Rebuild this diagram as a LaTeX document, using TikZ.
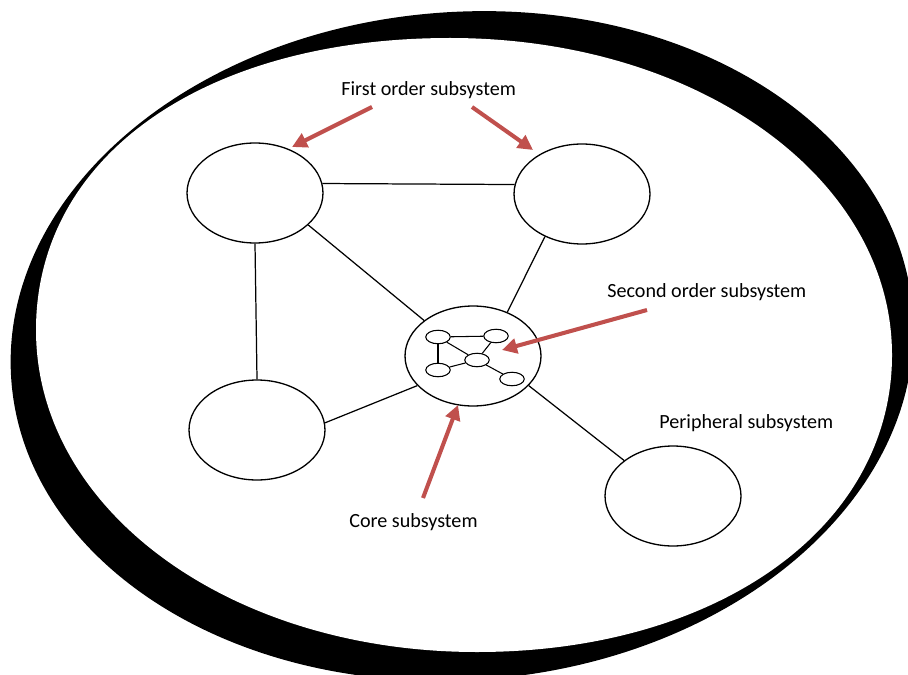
\documentclass[tikz,border=0pt]{standalone}
\usepackage{fontspec}
\setmainfont{Carlito}
\usetikzlibrary{shapes.geometric,arrows.meta}
\definecolor{accentred}{HTML}{C0504D}
\begin{document}
\begin{tikzpicture}[x=0.02cm,y=-0.02cm,
  sub/.style={draw,ellipse,line width=0.75pt,minimum width=2.72cm,minimum height=2cm,inner sep=0pt,fill=white},
  mini/.style={draw,ellipse,line width=0.6pt,minimum width=0.49cm,minimum height=0.27cm,inner sep=0pt,fill=white},
  link/.style={line width=0.7pt},
  minilink/.style={line width=0.6pt},
  pointer/.style={accentred,line width=2.3pt,-{Triangle[length=8.5pt,width=8.5pt]}},
  lbl/.style={anchor=base west,inner sep=0pt,font=\fontsize{11.45pt}{13pt}\selectfont}]
\useasboundingbox (0,0) rectangle (908,675);

% outer boundary: a thick black ring of uneven width
\begin{scope}
  \clip (0,0) rectangle (908,675);
  \fill[white] (0,0) rectangle (908,675);
  \fill[black, rotate around={4.5:(462,346)}] (462,346) ellipse [x radius=452, y radius=334];
  \fill[white] (36,330) .. controls (36,156.3) and (203.7,38) .. (450,38)
    .. controls (697.5,38) and (892,177.5) .. (892,355)
    .. controls (892,527.3) and (717.7,652) .. (477,652)
    .. controls (230,652) and (36,510.3) .. (36,330) -- cycle;
\end{scope}

% subsystems
\node[sub] (tl) at (255,193) {};
\node[sub] (tr) at (582,194) {};
\node[sub] (bl) at (257,430) {};
\node[sub] (per) at (673,496) {};
\node[sub] (core) at (473,356) {};

% links between subsystems
\draw[link] (tl.8) -- (tr.172);
\draw[link] (tl.south) -- (bl.north);
\draw[link] (tl.-31) -- (core.144);
\draw[link] (tr.229) -- (core.52);
\draw[link] (bl.6) -- (core.208);
\draw[link] (core.-28) -- (per.144);

% small network inside the core
\node[mini] (m1) at (438,337) {};
\node[mini] (m2) at (496,336) {};
\node[mini] (m3) at (477,360) {};
\node[mini] (m4) at (438,370) {};
\node[mini] (m5) at (512,379) {};
\draw[minilink] (m1) -- (m2);
\draw[minilink] (m1) -- (m4);
\draw[minilink] (m1) -- (m3);
\draw[minilink] (m2) -- (m3);
\draw[minilink] (m4) -- (m3);
\draw[minilink] (m3) -- (m5);

% labels
\node[lbl] (l1) at (341,96) {First order subsystem};
\node[lbl] (l2) at (607,297) {Second order subsystem};
\node[lbl] (l3) at (659,428) {Peripheral subsystem};
\node[lbl] (l4) at (349,527) {Core subsystem};

% red pointers
\coordinate (p1s) at (372,107); \coordinate (p1e) at (292,147);
\coordinate (p2s) at (472,107); \coordinate (p2e) at (533,150);
\coordinate (p3s) at (647,310); \coordinate (p3e) at (502,350);
\coordinate (p4s) at (423,498); \coordinate (p4e) at (458,405);
\draw[pointer] (p1s) -- (p1e);
\draw[pointer] (p2s) -- (p2e);
\draw[pointer] (p3s) -- (p3e);
\draw[pointer] (p4s) -- (p4e);
\end{tikzpicture}
\end{document}
